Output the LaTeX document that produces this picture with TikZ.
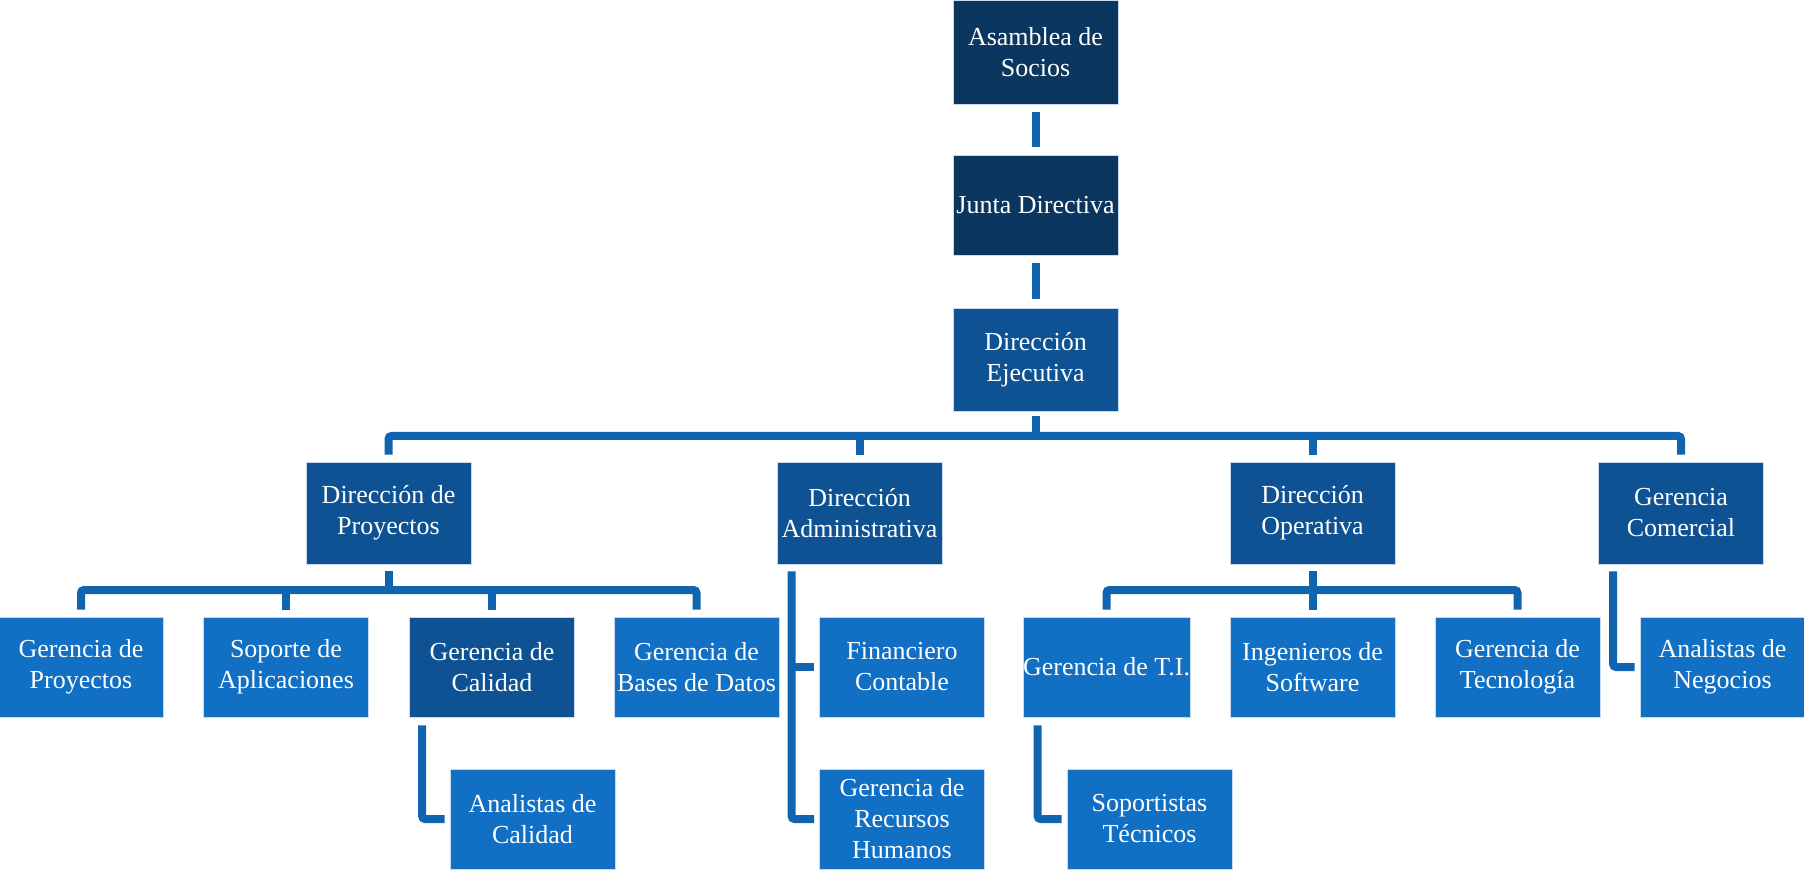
\documentclass[tikz,border=0pt]{standalone}
\usepackage{fontspec}
\setmainfont{Liberation Serif}
\definecolor{navy}{HTML}{0B365F}
\definecolor{midblue}{HTML}{0E5294}
\definecolor{brightblue}{HTML}{116FC4}
\definecolor{linkblue}{HTML}{1064B0}
\definecolor{rim}{HTML}{C8D9EE}
\begin{document}
\begin{tikzpicture}[x=0.5pt,y=-0.5pt,
  box/.style={draw=rim, line width=0.4pt, text=white, align=center, inner sep=0pt,
              minimum width=82.5pt, minimum height=50pt, font=\fontsize{13}{15.5}\selectfont},
  topbox/.style={box, fill=navy},
  midbox/.style={box, fill=midblue},
  lowbox/.style={box, fill=brightblue},
  conn/.style={draw=linkblue, line width=4pt, rounded corners=1.5pt}]
\useasboundingbox (0,0) rectangle (1804,871);

% governing bodies
\node[topbox, minimum height=52pt] (asam) at (1035.5,52) {Asamblea de\\Socios};
\node[topbox] (junta) at (1035.5,205) {Junta Directiva};
\node[midbox, minimum height=51.5pt] (ejec) at (1035.5,359.5) {Dirección\\Ejecutiva};

% directions
\node[midbox, minimum height=51pt] (dp)  at (388.5,513)  {Dirección de\\Proyectos};
\node[midbox, minimum height=51pt] (da)  at (859.5,513)  {Dirección\\Administrativa};
\node[midbox, minimum height=51pt] (dop) at (1312.5,513) {Dirección\\Operativa};
\node[midbox, minimum height=51pt] (gc)  at (1681,513)   {Gerencia\\Comercial};

% third level
\node[lowbox] (gp)   at (81,667)     {Gerencia de\\Proyectos};
\node[lowbox] (sa)   at (286,667)    {Soporte de\\Aplicaciones};
\node[midbox] (gcal) at (492,667)    {Gerencia de\\Calidad};
\node[lowbox] (gbd)  at (696.5,667)  {Gerencia de\\Bases de Datos};
\node[lowbox] (fin)  at (902,667)    {Financiero\\Contable};
\node[lowbox] (ti)   at (1106.5,667) {Gerencia de T.I.};
\node[lowbox] (ing)  at (1312.5,667) {Ingenieros de\\Software};
\node[lowbox] (tec)  at (1517.5,667) {Gerencia de\\Tecnología};
\node[lowbox] (an)   at (1722.5,667) {Analistas de\\Negocios};

% fourth level
\node[lowbox] (acal) at (532.5,819)  {Analistas de\\Calidad};
\node[lowbox] (rrhh) at (902,819)    {Gerencia de\\Recursos\\Humanos};
\node[lowbox] (sop)  at (1149.5,819) {Soportistas\\Técnicos};

% top chain
\draw[conn] ([yshift=-4pt]asam.south) -- ([yshift=4pt]junta.north);
\draw[conn] ([yshift=-4pt]junta.south) -- ([yshift=4.5pt]ejec.north);

% executive to directions
\coordinate (b1) at (0,436);
\draw[conn] ([yshift=-2.5pt]ejec.south) -- (ejec.south |- b1);
\draw[conn] ([yshift=3.5pt]dp.north) -- (dp.north |- b1) -- (gc.north |- b1) -- ([yshift=3.5pt]gc.north);
\draw[conn] (da.north |- b1) -- ([yshift=3.5pt]da.north);
\draw[conn] (dop.north |- b1) -- ([yshift=3.5pt]dop.north);

% projects branch
\coordinate (b2) at (0,590);
\draw[conn] ([yshift=-3.5pt]dp.south) -- (dp.south |- b2);
\draw[conn] ([yshift=3.5pt]gp.north) -- (gp.north |- b2) -- (gbd.north |- b2) -- ([yshift=3.5pt]gbd.north);
\draw[conn] (sa.north |- b2) -- ([yshift=3.5pt]sa.north);
\draw[conn] (gcal.north |- b2) -- ([yshift=3.5pt]gcal.north);

% operations branch
\draw[conn] ([yshift=-3.5pt]dop.south) -- (dop.south |- b2);
\draw[conn] ([yshift=3.5pt]ti.north) -- (ti.north |- b2) -- (tec.north |- b2) -- ([yshift=3.5pt]tec.north);
\draw[conn] (ing.north |- b2) -- ([yshift=3.5pt]ing.north);

% side branches
\coordinate (daL) at ([xshift=7.5pt,yshift=-3.5pt]da.south west);
\draw[conn] (daL) |- ([xshift=-2.5pt]rrhh.west);
\draw[conn] (daL |- fin.west) -- ([xshift=-2.5pt]fin.west);

\coordinate (gcalL) at ([xshift=6.5pt,yshift=-4pt]gcal.south west);
\draw[conn] (gcalL) |- ([xshift=-2.5pt]acal.west);

\coordinate (tiL) at ([xshift=7.5pt,yshift=-4pt]ti.south west);
\draw[conn] (tiL) |- ([xshift=-2.5pt]sop.west);

\coordinate (gcL) at ([xshift=7.5pt,yshift=-3.5pt]gc.south west);
\draw[conn] (gcL) |- ([xshift=-2.5pt]an.west);
\end{tikzpicture}
\end{document}
